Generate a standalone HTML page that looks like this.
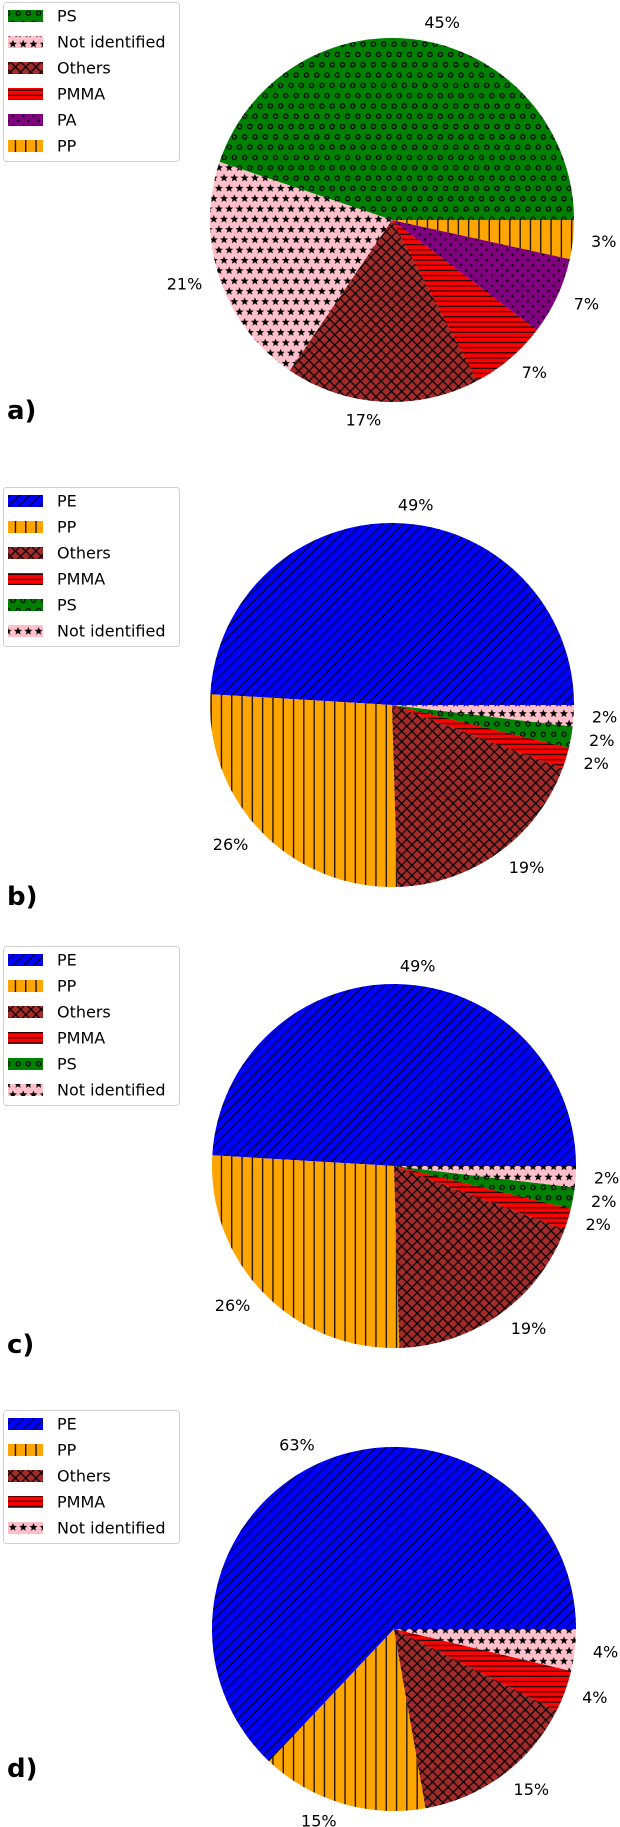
<!DOCTYPE html>
<html><head><meta charset="utf-8"><style>
html,body{margin:0;padding:0;background:#fff;}
svg{display:block;font-family:"DejaVu Sans","Liberation Sans",sans-serif;}
</style></head><body>
<svg id="fig" width="620" height="1827" viewBox="0 0 620 1827" xmlns="http://www.w3.org/2000/svg">
<defs>
<pattern id="h-o" patternUnits="userSpaceOnUse" width="10.3" height="20.6"><circle cx="2.6" cy="3" r="2.1" fill="none" stroke="#000" stroke-width="1.2"/><circle cx="7.75" cy="13.3" r="2.1" fill="none" stroke="#000" stroke-width="1.2"/></pattern>
<pattern id="h-star" patternUnits="userSpaceOnUse" width="10.3" height="20.6">
<g id="st"><polygon points="2.6,-1.4 3.7,1.5 6.7,1.6 4.3,3.5 5.2,6.4 2.6,4.7 0,6.4 0.9,3.5 -1.5,1.6 1.5,1.5" fill="#000"/></g>
<use href="#st" x="5.15" y="10.3"/><use href="#st" x="-5.15" y="10.3"/><use href="#st" x="0" y="20.6"/><use href="#st" x="10.3" y="0"/><use href="#st" x="10.3" y="20.6"/>
</pattern>
<pattern id="h-x" patternUnits="userSpaceOnUse" width="10.3" height="10.3"><path d="M0,0L10.3,10.3M0,10.3L10.3,0" stroke="#000" stroke-width="1.3"/></pattern>
<pattern id="h-dash" patternUnits="userSpaceOnUse" width="10.3" height="5.15"><path d="M0,2.6H10.3" stroke="#000" stroke-width="1.1"/></pattern>
<pattern id="h-dot" patternUnits="userSpaceOnUse" width="10.3" height="10.3"><circle cx="2.6" cy="2.6" r="1.2" fill="#000"/><circle cx="7.75" cy="7.75" r="1.2" fill="#000"/></pattern>
<pattern id="h-vert" patternUnits="userSpaceOnUse" width="10.3" height="10.3"><path d="M5.15,0V10.3" stroke="#000" stroke-width="1.2"/></pattern>
<pattern id="h-diag" patternUnits="userSpaceOnUse" width="10.3" height="10.3"><path d="M0,10.3L10.3,0M-2,2L2,-2M8.3,12.3L12.3,8.3" stroke="#000" stroke-width="1.1"/></pattern>
</defs>
</svg>
<script>
// chart data
const panelLabels = ["a)", "b)", "c)", "d)"];
const namesA = ["PS", "Not identified", "Others", "PMMA", "PA", "PP"];
const valuesA = [13, 6, 5, 2, 2, 1];
const namesB = ["PE", "PP", "Others", "PMMA", "PS", "Not identified"];
const valuesB = [26, 14, 10, 1, 1, 1];
const namesC = ["PE", "PP", "Others", "PMMA", "PS", "Not identified"];
const valuesC = [26, 14, 10, 1, 1, 1];
const namesD = ["PE", "PP", "Others", "PMMA", "Not identified"];
const valuesD = [17, 4, 4, 1, 1];

const style = {
  "PS": ["#008000", "h-o"], "Not identified": ["#ffc0cb", "h-star"], "Others": ["#a52a2a", "h-x"],
  "PMMA": ["#ff0000", "h-dash"], "PA": ["#800080", "h-dot"], "PP": ["#ffa500", "h-vert"], "PE": ["#0000ff", "h-diag"]
};
const NS = "http://www.w3.org/2000/svg";
const svg = document.getElementById("fig");
function mk(tag, attrs, parent) {
  const e = document.createElementNS(NS, tag);
  for (const k in attrs) e.setAttribute(k, attrs[k]);
  (parent || svg).appendChild(e);
  return e;
}
const panels = [
  {names: namesA, values: valuesA, cx: 392, cy: 220, ly: 2, lab: 419},
  {names: namesB, values: valuesB, cx: 392, cy: 705, ly: 487, lab: 905},
  {names: namesC, values: valuesC, cx: 394, cy: 1166, ly: 946, lab: 1353},
  {names: namesD, values: valuesD, cx: 394, cy: 1629, ly: 1410, lab: 1777}
];
const R = 182;
panels.forEach((p, pi) => {
  const g = mk("g", {});
  
  
  const total = p.values.reduce((a, b) => a + b, 0);
  let a0 = 0;
  p.values.forEach((v, i) => {
    const frac = v / total;
    const a1 = a0 + frac * 2 * Math.PI;
    const x0 = p.cx + R * Math.cos(a0), y0 = p.cy - R * Math.sin(a0);
    const x1 = p.cx + R * Math.cos(a1), y1 = p.cy - R * Math.sin(a1);
    const large = (a1 - a0) > Math.PI ? 1 : 0;
    const d = `M${p.cx},${p.cy}L${x0},${y0}A${R},${R} 0 ${large} 0 ${x1},${y1}Z`;
    const st = style[p.names[i]];
    const w = mk("path", {d: d, fill: st[0]}, g);
    
    
    const h = mk("path", {d: d, fill: "url(#" + st[1] + ")"}, g);
    
    
    const am = (a0 + a1) / 2, ld = R * 1.1;
    const c = Math.cos(am);
    const t = mk("text", {x: p.cx + ld * c, y: p.cy - ld * Math.sin(am), "text-anchor": c >= 0 ? "start" : "end", "dominant-baseline": "central", "font-size": "16", fill: "#000"}, g);
    t.textContent = Math.round(frac * 100) + "%";
    
    
    a0 = a1;
  });
  // legend
  const n = p.names.length;
  const lg = mk("g", {}, g);
  
  
  const box = mk("rect", {x: 3.5, y: p.ly + 0.5, width: 176, height: n * 26 + 3, rx: 3, fill: "#fff", stroke: "#d0d0d0", "stroke-width": 1}, lg);
  
  
  p.names.forEach((nm, i) => {
    const yy = p.ly + 14 + i * 26;
    const st = style[nm];
    const e = mk("g", {}, lg);
    
    
    mk("rect", {x: 8, y: yy - 6, width: 35, height: 12, fill: st[0]}, e);
    mk("rect", {x: 8, y: yy - 6, width: 35, height: 12, fill: "url(#" + st[1] + ")"}, e);
    const t = mk("text", {x: 57, y: yy, "dominant-baseline": "central", "font-size": "16", fill: "#000"}, e);
    t.textContent = nm;
  });
  const pl = mk("text", {x: 7, y: p.lab, "font-size": "26", "font-weight": "bold", fill: "#000"}, g);
  pl.textContent = panelLabels[pi];
  
  
});
</script>
</body></html>
